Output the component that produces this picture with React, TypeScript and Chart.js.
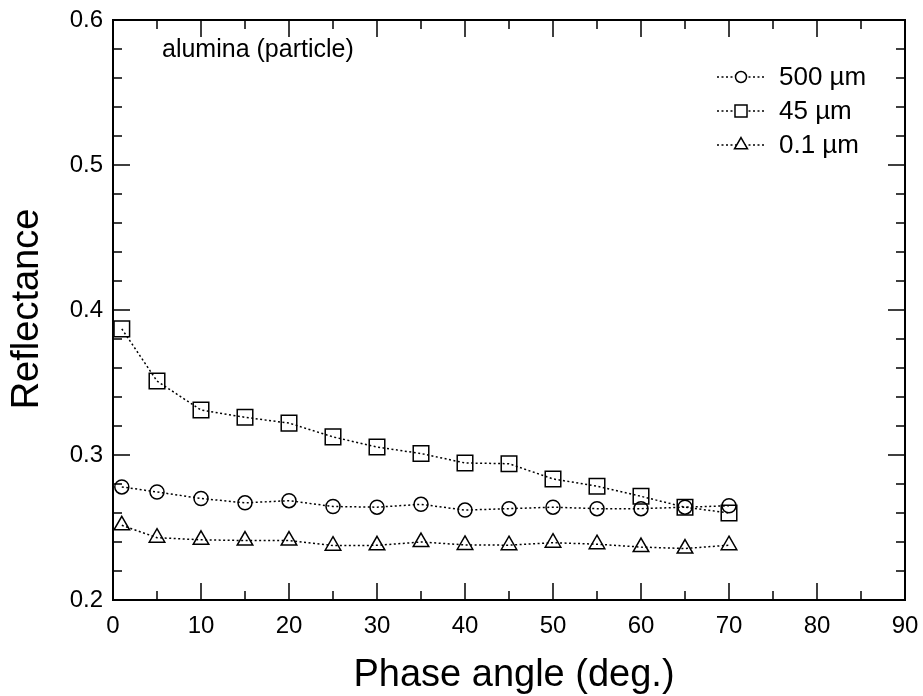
import React, { useEffect, useRef } from "react";
import { Chart, registerables } from "chart.js";

Chart.register(...registerables);

const FONT = "'Liberation Sans', Arial, Helvetica, sans-serif";

const phaseAngles = [1, 5, 10, 15, 20, 25, 30, 35, 40, 45, 50, 55, 60, 65, 70];
const series500 = [0.278, 0.2745, 0.270, 0.267, 0.2685, 0.2645, 0.264, 0.266, 0.262, 0.263, 0.264, 0.263, 0.263, 0.264, 0.265];
const series45 = [0.387, 0.351, 0.331, 0.326, 0.322, 0.3125, 0.3055, 0.301, 0.2945, 0.294, 0.2835, 0.2785, 0.2715, 0.264, 0.260];
const series01 = [0.2515, 0.243, 0.2415, 0.241, 0.241, 0.2375, 0.2377, 0.240, 0.238, 0.2378, 0.2395, 0.2385, 0.2365, 0.2355, 0.2378];

const seriesLabels = ["500 \u00b5m", "45 \u00b5m", "0.1 \u00b5m"];
const seriesStyles = ["circle", "rect", "triangle"];
const xMajorTicks = [0, 10, 20, 30, 40, 50, 60, 70, 80, 90];
const xMinorTicks = [5, 15, 25, 35, 45, 55, 65, 75, 85];
const yMajorTicks = [0.2, 0.3, 0.4, 0.5, 0.6];
const yMinorTicks = [0.22, 0.24, 0.26, 0.28, 0.32, 0.34, 0.36, 0.38, 0.42, 0.44, 0.46, 0.48, 0.52, 0.54, 0.56, 0.58];
const xTitle = "Phase angle (deg.)";
const yTitle = "Reflectance";
const annotation = "alumina (particle)";

const plotRadius: Record<string, number> = { circle: 7, rect: 11, triangle: 9 };
const legendRadius: Record<string, number> = { circle: 5.5, rect: 8.5, triangle: 7.5 };

function markerPath(ctx: CanvasRenderingContext2D, st: string, cx: number, cy: number, r: number) {
  ctx.beginPath();
  if (st === "circle") {
    ctx.arc(cx, cy, r, 0, Math.PI * 2);
  } else if (st === "rect") {
    const s = r / Math.SQRT2;
    ctx.rect(cx - s, cy - s, 2 * s, 2 * s);
  } else {
    ctx.moveTo(cx, cy - r);
    ctx.lineTo(cx + r * Math.sin((Math.PI * 2) / 3), cy - r * Math.cos((Math.PI * 2) / 3));
    ctx.lineTo(cx + r * Math.sin((Math.PI * 4) / 3), cy - r * Math.cos((Math.PI * 4) / 3));
    ctx.closePath();
  }
}

const framePlugin = {
  id: "framePlugin",
  afterDraw(chart: any) {
    const { ctx, chartArea: a, scales } = chart;
    const x = scales.x;
    const y = scales.y;
    ctx.save();
    ctx.strokeStyle = "#000";
    ctx.lineWidth = 2;
    ctx.strokeRect(a.left, a.top, a.right - a.left, a.bottom - a.top);
    ctx.lineWidth = 1.5;
    ctx.beginPath();
    const xt = (v: number, L: number) => {
      const p = x.getPixelForValue(v);
      ctx.moveTo(p, a.bottom);
      ctx.lineTo(p, a.bottom - L);
      ctx.moveTo(p, a.top);
      ctx.lineTo(p, a.top + L);
    };
    const yt = (v: number, L: number) => {
      const p = y.getPixelForValue(v);
      ctx.moveTo(a.left, p);
      ctx.lineTo(a.left + L, p);
      ctx.moveTo(a.right, p);
      ctx.lineTo(a.right - L, p);
    };
    xMajorTicks.forEach((v) => xt(v, 17));
    xMinorTicks.forEach((v) => xt(v, 9));
    yMajorTicks.forEach((v) => yt(v, 17));
    yMinorTicks.forEach((v) => yt(v, 9));
    ctx.stroke();

    ctx.fillStyle = "#000";
    ctx.font = `38px ${FONT}`;
    ctx.textAlign = "center";
    ctx.textBaseline = "alphabetic";
    ctx.fillText(xTitle, 514, 686);
    ctx.save();
    ctx.translate(38, 309);
    ctx.rotate(-Math.PI / 2);
    ctx.fillText(yTitle, 0, 0);
    ctx.restore();

    ctx.font = `25px ${FONT}`;
    ctx.textAlign = "left";
    ctx.textBaseline = "middle";
    ctx.fillText(annotation, 162, 50);

    const rows = [77, 111, 145];
    chart.data.datasets.forEach((ds: any, i: number) => {
      const yy = rows[i];
      ctx.save();
      ctx.setLineDash([2, 2.5]);
      ctx.lineWidth = 1.5;
      ctx.beginPath();
      ctx.moveTo(717, yy);
      ctx.lineTo(765, yy);
      ctx.stroke();
      ctx.restore();
      ctx.save();
      ctx.lineWidth = 1.5;
      ctx.strokeStyle = "#000";
      ctx.fillStyle = "#fff";
      markerPath(ctx, seriesStyles[i], 741, yy, legendRadius[seriesStyles[i]]);
      ctx.fill();
      ctx.stroke();
      ctx.restore();
      ctx.font = `26px ${FONT}`;
      ctx.textAlign = "left";
      ctx.textBaseline = "middle";
      ctx.fillText(ds.label, 779, yy + 1);
    });
    ctx.restore();
  },
};

export default function App() {
  const ref = useRef<HTMLCanvasElement>(null);
  useEffect(() => {
    if (!ref.current) return;
    const all = [series500, series45, series01];
    const chart = new Chart(ref.current, {
      type: "line",
      data: {
        datasets: all.map((vals, i) => ({
          label: seriesLabels[i],
          data: phaseAngles.map((a, j) => ({ x: a, y: vals[j] })),
          borderColor: "#000",
          backgroundColor: "rgba(0,0,0,0)",
          borderWidth: 1.5,
          borderDash: [2, 2.5],
          pointStyle: seriesStyles[i] as any,
          pointRadius: plotRadius[seriesStyles[i]],
          pointBorderWidth: 1.5,
          pointBorderColor: "#000",
          pointBackgroundColor: "rgba(0,0,0,0)",
          tension: 0,
          fill: false,
        })),
      },
      options: {
        responsive: false,
        animation: false,
        layout: { padding: { left: 0, top: 20, right: 18, bottom: 0 } },
        plugins: { legend: { display: false }, tooltip: { enabled: false } },
        scales: {
          x: {
            type: "linear",
            min: 0,
            max: 90,
            afterFit: (s: any) => {
              s.height = 96;
              s.paddingLeft = 0;
              s.paddingRight = 0;
            },
            afterBuildTicks: (s: any) => { s.ticks = xMajorTicks.map((v) => ({ value: v })); },
            grid: { display: false, drawTicks: false },
            border: { display: false },
            ticks: { padding: 12, color: "#000", font: { size: 24, family: FONT }, maxRotation: 0, autoSkip: false },
          },
          y: {
            type: "linear",
            min: 0.2,
            max: 0.6,
            afterFit: (s: any) => {
              s.width = 113;
              s.paddingTop = 0;
              s.paddingBottom = 0;
            },
            afterBuildTicks: (s: any) => { s.ticks = yMajorTicks.map((v) => ({ value: v })); },
            grid: { display: false, drawTicks: false },
            border: { display: false },
            ticks: { padding: 10, color: "#000", font: { size: 24, family: FONT }, callback: (v: any) => Number(v).toFixed(1) },
          },
        },
      },
      plugins: [framePlugin],
    });
    return () => chart.destroy();
  }, []);
  return (
    <div style={{ position: "absolute", left: 0, top: 0, width: 923, height: 696, background: "#fff" }}>
      <canvas ref={ref} width={923} height={696} style={{ width: 923, height: 696, display: "block" }} />
    </div>
  );
}
